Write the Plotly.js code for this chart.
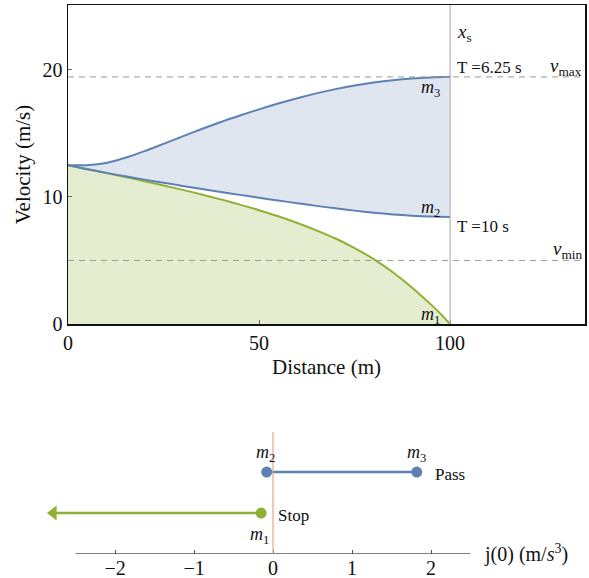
<!DOCTYPE html>
<html>
<head>
<meta charset="utf-8">
<script src="https://cdn.plot.ly/plotly-3.0.1.min.js"></script>
<style>html,body{margin:0;padding:0;background:#fff;}#chart{width:589px;height:578px;}</style>
</head>
<body>
<div id="chart"></div>
<script>
// ---- Data ----
const distance = [0,5,10,15,20,25,30,35,40,45,50,55,60,65,70,75,80,85,90,95,100];
const velocityM3 = [12.5,12.5,12.675,13.075,13.6,14.175,14.765,15.345,15.895,16.405,16.89,17.345,17.765,18.145,18.48,18.765,19.0,19.185,19.32,19.405,19.445];
const velocityM2 = [12.5,12.18,11.89,11.62,11.36,11.11,10.865,10.625,10.39,10.16,9.935,9.715,9.505,9.295,9.1,8.92,8.76,8.625,8.52,8.45,8.415];
const distanceM1 = [0,5,10,15,20,25,30,35,40,45,50,55,60,65,70,75,80,85,90,95,97.5,100];
const velocityM1 = [12.5,12.19,11.88,11.565,11.24,10.905,10.555,10.19,9.805,9.395,8.955,8.475,7.95,7.37,6.725,5.975,5.1,4.075,2.875,1.525,0.8,0];
const vMax = 19.44, vMin = 5, xStop = 100;
const xTicks = [0,50,100], yTicks = [0,10,20];

// bottom number line: initial jerk j(0)
const jPass = [-0.08, 1.82];     // m2 .. m3
const jStop = [-0.15, -2.78];    // m1 .. arrow end
const jTicks = [-2,-1,0,1,2];
const jTickText = ['\u22122','\u22121','0','1','2'];
const rowPass = 2, rowStop = 1;

const BLUE = '#5E81B5', GREEN = '#8FB032';
const FONT = 'Liberation Serif, Times New Roman, serif';

const traces = [
  {x: distanceM1, y: velocityM1, type:'scatter', mode:'lines', line:{color:GREEN, width:2, shape:'spline', smoothing:0.8},
   fill:'tozeroy', fillcolor:'rgba(143,176,50,0.23)', xaxis:'x', yaxis:'y', hoverinfo:'skip'},
  {x: distance, y: velocityM2, type:'scatter', mode:'lines', line:{color:BLUE, width:2, shape:'spline', smoothing:0.8},
   xaxis:'x', yaxis:'y', hoverinfo:'skip'},
  {x: distance, y: velocityM3, type:'scatter', mode:'lines', line:{color:BLUE, width:2, shape:'spline', smoothing:0.8},
   fill:'tonexty', fillcolor:'rgba(94,129,181,0.2)', xaxis:'x', yaxis:'y', hoverinfo:'skip'},
  // Pass segment
  {x: jPass, y: [rowPass,rowPass], type:'scatter', mode:'lines+markers', line:{color:BLUE, width:2.5},
   marker:{color:BLUE, size:11}, xaxis:'x2', yaxis:'y2', hoverinfo:'skip'},
  // Stop segment
  {x: jStop, y: [rowStop,rowStop], type:'scatter', mode:'lines', line:{color:GREEN, width:2.5},
   xaxis:'x2', yaxis:'y2', hoverinfo:'skip'},
  {x: [jStop[0]], y: [rowStop], type:'scatter', mode:'markers', marker:{color:GREEN, size:11},
   xaxis:'x2', yaxis:'y2', hoverinfo:'skip'},
  {x: [jStop[1]], y: [rowStop], type:'scatter', mode:'markers', marker:{color:GREEN, size:13, symbol:'triangle-left'},
   xaxis:'x2', yaxis:'y2', hoverinfo:'skip'}
];

const txt = (x, y, text, anchor, size, xref, yref) => ({x, y, text, xref: xref||'x', yref: yref||'y',
  xanchor: anchor||'left', yanchor:'middle', showarrow:false, font:{family:FONT, size:size||17, color:'#111'}});

const layout = {
  width:589, height:578, margin:{l:0,r:0,t:0,b:0}, showlegend:false,
  paper_bgcolor:'#fff', plot_bgcolor:'rgba(0,0,0,0)',
  font:{family:FONT, color:'#111'},
  xaxis:{domain:[68/589, 585/589], range:[0,135.3], tickvals:xTicks, ticks:'inside', ticklen:4, tickcolor:'#666',
    showline:true, mirror:true, linecolor:'#111', linewidth:1.5, showgrid:false, zeroline:false,
    tickfont:{family:FONT, size:20, color:'#111'},
    title:{text:'Distance (m)', font:{family:FONT, size:21, color:'#111'}, standoff:7}},
  yaxis:{domain:[(578-324)/578, (578-5)/578], range:[0,25.1], tickvals:yTicks, ticks:'inside', ticklen:4, tickcolor:'#666',
    showline:true, mirror:true, linecolor:'#111', linewidth:1.5, showgrid:false, zeroline:false,
    tickfont:{family:FONT, size:20, color:'#111'},
    title:{text:'Velocity (m/s)', font:{family:FONT, size:21, color:'#111'}, standoff:6}},
  xaxis2:{domain:[0,1], range:[-3.456,4.0], anchor:'y2', tickvals:jTicks, ticktext:jTickText, ticks:'inside', ticklen:4,
    tickcolor:'#555', showline:false, showgrid:false, zeroline:false, tickfont:{family:FONT, size:20, color:'#111'}},
  yaxis2:{domain:[24/578, 158/578], range:[0,3.27], anchor:'x2', visible:false},
  shapes:[
    {type:'line', xref:'x domain', yref:'y', x0:0, x1:1, y0:vMax, y1:vMax, line:{color:'#999', width:1, dash:'6px,5px'}},
    {type:'line', xref:'x domain', yref:'y', x0:0, x1:1, y0:vMin, y1:vMin, line:{color:'#999', width:1, dash:'6px,5px'}},
    {type:'line', xref:'x', yref:'y domain', x0:xStop, x1:xStop, y0:0, y1:1, line:{color:'#b4b4bc', width:1.2}},
    {type:'line', xref:'x2', yref:'y2', x0:-2.5, x1:2.5, y0:0, y1:0, line:{color:'#555', width:1.5}},
    {type:'line', xref:'x2', yref:'y2', x0:0, x1:0, y0:0, y1:2.98, line:{color:'#eaa392', width:1.2}}
  ],
  annotations:[
    txt(101.3, 22.9, '<i>x</i><sub>s</sub>', 'left', 19),
    txt(101.3, 20.2, 'T =6.25 s', 'left', 17),
    txt(135, 20.25, '<i>v</i><sub>max</sub>', 'right', 19),
    txt(98, 18.5, '<i>m</i><sub>3</sub>', 'right', 18),
    txt(98, 9.06, '<i>m</i><sub>2</sub>', 'right', 18),
    txt(101.3, 7.64, 'T =10 s', 'left', 17),
    txt(135, 5.85, '<i>v</i><sub>min</sub>', 'right', 19),
    txt(98, 0.63, '<i>m</i><sub>1</sub>', 'right', 18),
    txt(-0.09, 2.46, '<i>m</i><sub>2</sub>', 'center', 18, 'x2', 'y2'),
    txt(1.82, 2.46, '<i>m</i><sub>3</sub>', 'center', 18, 'x2', 'y2'),
    txt(-0.165, 0.46, '<i>m</i><sub>1</sub>', 'center', 18, 'x2', 'y2'),
    txt(0.04, 0.93, 'Stop', 'left', 17, 'x2', 'y2'),
    txt(2.03, 1.93, 'Pass', 'left', 17, 'x2', 'y2'),
    txt(2.65, 0.02, 'j(0) (m/<i>s</i><sup>3</sup>)', 'left', 20, 'x2', 'y2')
  ]
};

Plotly.newPlot('chart', traces, layout, {displayModeBar:false, staticPlot:true});
</script>
</body>
</html>
